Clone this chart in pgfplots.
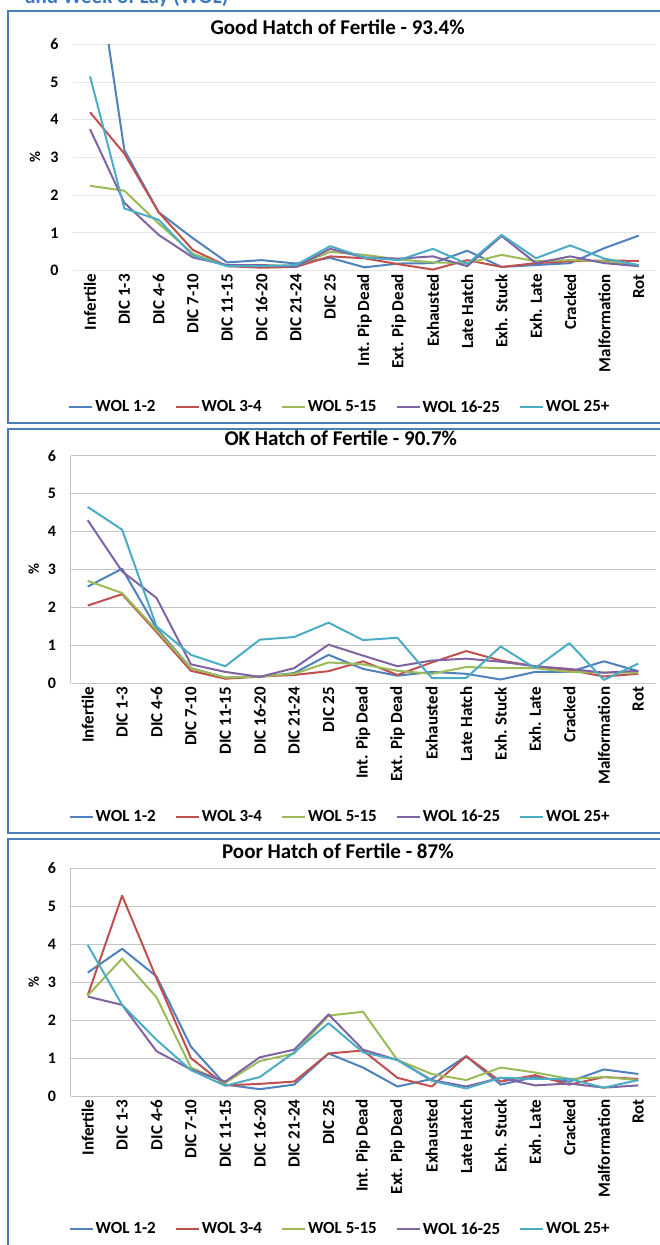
\documentclass[border=0pt]{standalone}
\usepackage{fontspec}
\setmainfont{Carlito}
\usepackage{pgfplots}
\pgfplotsset{compat=1.18}
\usepackage{pgfplotstable}

\definecolor{c1}{HTML}{4F81BD}
\definecolor{c2}{HTML}{C0504D}
\definecolor{c3}{HTML}{9BBB59}
\definecolor{c4}{HTML}{8064A2}
\definecolor{c5}{HTML}{4BACC6}
\definecolor{frameblue}{HTML}{4A7EBB}
\definecolor{titleblue}{HTML}{3B78C0}
\definecolor{gridA}{HTML}{E6E6E6}
\definecolor{gridB}{HTML}{C4C4C4}

% x: 0 Infertile ... 16 Rot
\pgfplotstableread{
x a b c d e
0 9.3 4.2 2.25 3.75 5.15
1 3.2 3.1 2.12 1.8 1.65
2 1.55 1.55 1.25 0.95 1.35
3 0.86 0.55 0.45 0.35 0.4
4 0.22 0.12 0.12 0.15 0.12
5 0.28 0.08 0.15 0.15 0.12
6 0.19 0.1 0.12 0.1 0.15
7 0.34 0.38 0.5 0.58 0.65
8 0.09 0.33 0.42 0.35 0.35
9 0.19 0.17 0.3 0.32 0.28
10 0.2 0.03 0.22 0.38 0.58
11 0.53 0.28 0.2 0.12 0.18
12 0.1 0.1 0.42 0.92 0.95
13 0.15 0.2 0.25 0.2 0.33
14 0.2 0.25 0.28 0.38 0.67
15 0.6 0.27 0.25 0.2 0.32
16 0.93 0.26 0.12 0.12 0.15
}\goodtab

\pgfplotstableread{
x a b c d e
0 2.55 2.05 2.7 4.3 4.65
1 3.02 2.35 2.38 2.95 4.05
2 1.45 1.35 1.4 2.25 1.5
3 0.4 0.33 0.4 0.5 0.75
4 0.15 0.12 0.15 0.3 0.45
5 0.17 0.18 0.18 0.17 1.15
6 0.27 0.22 0.25 0.4 1.22
7 0.75 0.32 0.55 1.02 1.6
8 0.38 0.58 0.5 0.73 1.14
9 0.2 0.22 0.33 0.45 1.2
10 0.3 0.55 0.25 0.6 0.14
11 0.25 0.85 0.43 0.65 0.14
12 0.1 0.6 0.4 0.57 0.97
13 0.3 0.45 0.4 0.45 0.4
14 0.3 0.35 0.3 0.38 1.06
15 0.58 0.18 0.28 0.28 0.09
16 0.32 0.25 0.28 0.33 0.52
}\oktab

\pgfplotstableread{
x a b c d e
0 3.25 2.65 2.65 2.62 3.98
1 3.88 5.28 3.62 2.4 2.4
2 3.15 3.1 2.6 1.18 1.48
3 1.3 1.0 0.75 0.7 0.68
4 0.3 0.28 0.35 0.38 0.27
5 0.18 0.32 0.92 1.02 0.5
6 0.3 0.38 1.12 1.22 1.15
7 1.12 1.12 2.12 2.15 1.92
8 0.75 1.2 2.22 1.22 1.15
9 0.25 0.48 0.95 0.95 0.95
10 0.45 0.25 0.58 0.42 0.4
11 1.05 1.05 0.42 0.25 0.2
12 0.3 0.38 0.75 0.48 0.48
13 0.5 0.55 0.62 0.28 0.45
14 0.38 0.3 0.45 0.33 0.45
15 0.7 0.5 0.5 0.22 0.22
16 0.58 0.45 0.42 0.28 0.42
}\poortab

\pgfplotsset{
  panel/.style={
    scale only axis,
    xmin=-0.5, xmax=16.5, ymin=0, ymax=6,
    xtick={0,...,16},
    xticklabels={Infertile, DIC 1-3, DIC 4-6, DIC 7-10, DIC 11-15, DIC 16-20, DIC 21-24, DIC 25, Int. Pip Dead, Ext. Pip Dead, Exhausted, Late Hatch, Exh. Stuck, Exh. Late, Cracked, Malformation, Rot},
    ytick={0,...,6},
    yticklabels={0,1,2,3,4,5,6},
    major tick length=0pt,
    ymajorgrids,
    axis lines*=left,
    xticklabel style={rotate=90, anchor=east, font=\bfseries\fontsize{17}{17}\selectfont},
    yticklabel style={font=\bfseries\fontsize{16}{16}\selectfont, xshift=-11pt},
    ylabel={\%},
    ylabel style={font=\bfseries\fontsize{15}{15}\selectfont},
    title style={anchor=base, yshift=4pt, font=\bfseries\fontsize{21}{21}\selectfont},
    legend columns=5,
    legend style={draw=none, fill=none, anchor=center,
      font=\bfseries\fontsize{17}{17}\selectfont,
      /tikz/every even column/.append style={column sep=17pt},
      /tikz/every odd column/.append style={column sep=0pt},
      nodes={inner xsep=2pt}},
    legend image code/.code={\draw[#1] (0pt,0pt) -- (23pt,0pt);},
    every axis plot/.append style={line width=2pt, line join=round, no markers},
  },
}

\begin{document}
\begin{tikzpicture}[x=1pt,y=1pt]
\useasboundingbox (0,0) rectangle (659,-1245);
% frames
\draw[frameblue, line width=2pt] (7.5,-11) -- (680,-11) -- (680,-423) -- (7.5,-423) -- cycle;
\draw[frameblue, line width=2pt] (7.5,-428.5) -- (680,-428.5) -- (680,-833) -- (7.5,-833) -- cycle;
\draw[frameblue, line width=2pt] (7.5,-839) -- (680,-839) -- (680,-1270) -- (7.5,-1270) -- cycle;
% cut-off heading
\node[anchor=base west, inner sep=0pt, text=titleblue, font=\bfseries\fontsize{21}{21}\selectfont] at (25,-3.5) {and Week of Lay (WOL)};

% Panel 1
\begin{axis}[panel, at={(72.9pt,-270.7pt)}, anchor=south west,
  width=583pt, height=226.4pt,
  grid style={gridA, line width=1pt},
  axis line style={draw=none},
  title={Good Hatch of Fertile - 93.4\%},
  title style={at={(axis description cs:0.454,1)}},
  ylabel style={at={(axis description cs:-0.065,0.5)}, anchor=center},
  legend style={at={(axis description cs:0.458,-0.602)}},
]
\addplot[c1] table[x=x,y=a] {\goodtab};
\addplot[c2] table[x=x,y=b] {\goodtab};
\addplot[c3] table[x=x,y=c] {\goodtab};
\addplot[c4] table[x=x,y=d] {\goodtab};
\addplot[c5] table[x=x,y=e] {\goodtab};
\legend{WOL 1-2, WOL 3-4, WOL 5-15, WOL 16-25, WOL 25+}
\end{axis}

% Panel 2
\begin{axis}[panel, at={(70.5pt,-683.3pt)}, anchor=south west,
  width=585pt, height=227.6pt,
  grid style={gridB, line width=1pt},
  axis line style={gridB, line width=1pt},
  title={OK Hatch of Fertile - 90.7\%},
  title style={at={(axis description cs:0.462,1)}},
  ylabel style={at={(axis description cs:-0.063,0.5)}, anchor=center},
  legend style={at={(axis description cs:0.461,-0.587)}},
]
\addplot[c1] table[x=x,y=a] {\oktab};
\addplot[c2] table[x=x,y=b] {\oktab};
\addplot[c3] table[x=x,y=c] {\oktab};
\addplot[c4] table[x=x,y=d] {\oktab};
\addplot[c5] table[x=x,y=e] {\oktab};
\legend{WOL 1-2, WOL 3-4, WOL 5-15, WOL 16-25, WOL 25+}
\end{axis}

% Panel 3
\begin{axis}[panel, at={(70.5pt,-1096pt)}, anchor=south west,
  width=585pt, height=227.7pt,
  grid style={gridB, line width=1pt},
  axis line style={gridB, line width=1pt},
  title={Poor Hatch of Fertile - 87\%},
  title style={at={(axis description cs:0.457,1)}},
  ylabel style={at={(axis description cs:-0.063,0.5)}, anchor=center},
  legend style={at={(axis description cs:0.461,-0.584)}},
]
\addplot[c1] table[x=x,y=a] {\poortab};
\addplot[c2] table[x=x,y=b] {\poortab};
\addplot[c3] table[x=x,y=c] {\poortab};
\addplot[c4] table[x=x,y=d] {\poortab};
\addplot[c5] table[x=x,y=e] {\poortab};
\legend{WOL 1-2, WOL 3-4, WOL 5-15, WOL 16-25, WOL 25+}
\end{axis}
\end{tikzpicture}
\end{document}
